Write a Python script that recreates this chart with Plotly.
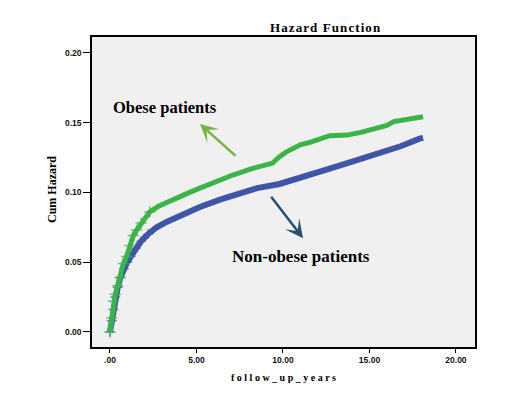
import plotly.graph_objects as go

# Data
obese_x = [0, 0.1, 0.2, 0.3, 0.45, 0.58, 0.77, 0.96, 1.15, 1.35, 1.54, 1.8, 2.3, 2.8, 3.3, 4.0,
           4.6, 5.2, 6.0, 7.1, 8.2, 9.0, 9.4, 9.8, 10.2, 11.0, 11.6, 12.7, 13.7, 14.5, 15.6,
           16.0, 16.4, 17.15, 17.9, 18.1]
obese_y = [0, 0.010, 0.022, 0.027, 0.033, 0.039, 0.049, 0.054, 0.062, 0.069, 0.073, 0.078,
           0.086, 0.090, 0.093, 0.097, 0.100, 0.103, 0.107, 0.1124, 0.117, 0.1196, 0.121,
           0.1255, 0.129, 0.134, 0.136, 0.1406, 0.141, 0.143, 0.146, 0.148, 0.1507, 0.1526,
           0.1542, 0.1542]

nonobese_x = [0, 0.1, 0.2, 0.3, 0.45, 0.6, 0.8, 1.0, 1.2, 1.5, 1.8, 2.2, 2.7, 3.3, 4.0, 5.2,
              6.4, 7.5, 8.5, 9.8, 11.0, 12.7, 14.0, 15.6, 16.8, 17.9, 18.1]
nonobese_y = [0, 0.008, 0.016, 0.025, 0.032, 0.039, 0.045, 0.050, 0.054, 0.060, 0.065, 0.070,
              0.075, 0.079, 0.083, 0.0895, 0.095, 0.099, 0.103, 0.106, 0.111, 0.117, 0.122,
              0.128, 0.133, 0.1385, 0.139]

x_tickvals = [0, 5, 10, 15, 20]
x_ticktext = [".00", "5.00", "10.00", "15.00", "20.00"]
y_tickvals = [0, 0.05, 0.10, 0.15, 0.20]
y_ticktext = ["0.00", "0.05", "0.10", "0.15", "0.20"]

GREEN = "#3bb44a"
BLUE = "#3f56a8"
SERIF = "Liberation Serif, Times New Roman, serif"
SANS = "Liberation Sans, Arial, sans-serif"
HS = "\u200a"  # hair space for letter spacing


def spaced(s):
    return HS.join(s)


def marker_sizes(xs, size):
    # crosses are only distinguishable in the steep early part
    return [size if v < 2.5 else 0 for v in xs]


fig = go.Figure()
fig.add_trace(go.Scatter(
    x=nonobese_x, y=nonobese_y, mode="lines+markers",
    line=dict(color=BLUE, width=6),
    marker=dict(symbol="cross-thin", size=marker_sizes(nonobese_x, 7),
                line=dict(color=BLUE, width=1.5)),
    showlegend=False))
fig.add_trace(go.Scatter(
    x=obese_x, y=obese_y, mode="lines+markers",
    line=dict(color=GREEN, width=5),
    marker=dict(symbol="cross-thin", size=marker_sizes(obese_x, 8),
                line=dict(color=GREEN, width=1.5)),
    showlegend=False))

W, H = 510, 394
L, R, T, B = 92, 35, 37, 47
pw, ph = W - L - R, H - T - B

# text labels positioned in pixels (centre), converted to paper coords
labels = [
    ("<b>" + spaced("Hazard Function") + "</b>", 325, 27, 13, 0),
    ("<b>Obese patients</b>", 165, 108, 16.5, 0),
    ("<b>Non-obese patients</b>", 301, 256, 17, 0),
    ("<b>Cum Hazard</b>", 52, 190, 12, -90),
    ("<b>f o l l o w _ u p _ y e a r s</b>", 283, 377, 10, 0),
]
annotations = []
for text, px, py, fs, ang in labels:
    annotations.append(dict(
        text=text, x=(px - L) / pw, y=(H - py - B) / ph, xref="paper", yref="paper",
        xanchor="center", yanchor="middle", showarrow=False, textangle=ang,
        font=dict(family=SERIF, size=fs, color="black")))

annotations += [
    dict(x=5.2, y=0.149, ax=7.34, ay=0.1253, xref="x", yref="y", axref="x", ayref="y",
         showarrow=True, arrowhead=3, arrowsize=1.2, arrowwidth=2.5, arrowcolor="#78b446", text=""),
    dict(x=11.16, y=0.0672, ax=9.25, ay=0.098, xref="x", yref="y", axref="x", ayref="y",
         showarrow=True, arrowhead=3, arrowsize=1.2, arrowwidth=2.5, arrowcolor="#2a4f72", text=""),
]

fig.update_layout(
    width=W, height=H,
    margin=dict(l=L, r=R, t=T, b=B),
    paper_bgcolor="white", plot_bgcolor="#f0f0f0",
    annotations=annotations,
    xaxis=dict(range=[-1.04, 21.1], tickvals=x_tickvals, ticktext=x_ticktext,
               showgrid=False, zeroline=False, showline=True, linecolor="black",
               linewidth=1.5, mirror=True, ticks="outside", ticklen=4, tickcolor="black",
               tickwidth=1,
               tickfont=dict(family=SANS, size=8.5, color="#111111", weight="bold")),
    yaxis=dict(range=[-0.0108, 0.2113], tickvals=y_tickvals, ticktext=y_ticktext,
               showgrid=False, zeroline=False, showline=True, linecolor="black",
               linewidth=1.5, mirror=True, ticks="outside", ticklen=7, tickcolor="black",
               tickwidth=1,
               tickfont=dict(family=SANS, size=8.5, color="#111111", weight="bold")),
)

fig.write_html("out.html", config={"displayModeBar": False},
               post_script="document.body.style.margin='0';")
